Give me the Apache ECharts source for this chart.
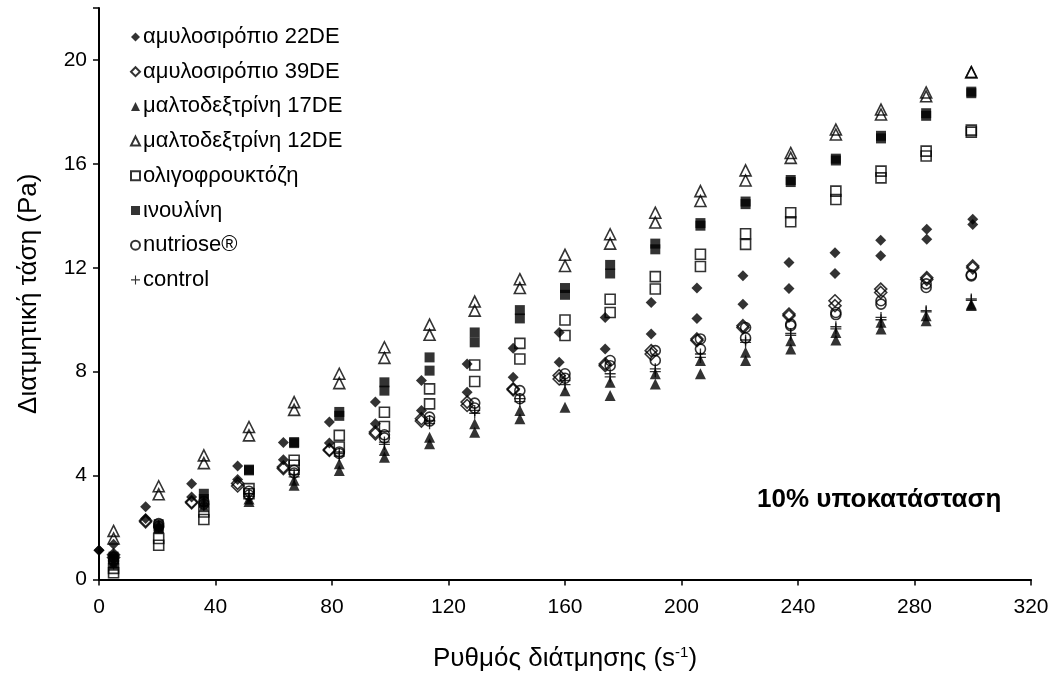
<!DOCTYPE html>
<html>
<head>
<meta charset="utf-8">
<script src="https://cdn.jsdelivr.net/npm/echarts@6/dist/echarts.min.js"></script>
<style>html,body{margin:0;padding:0;background:#fff}#c{width:1056px;height:682px}</style>
</head>
<body>
<div id="c"></div>
<script>
// ---- data ----
var seriesNames = ['αμυλοσιρόπιο 22DE','αμυλοσιρόπιο 39DE','μαλτοδεξτρίνη 17DE','μαλτοδεξτρίνη 12DE','ολιγοφρουκτόζη','ινουλίνη','nutriose®','control'];
var xMain = [5, 20.5, 36, 51.5, 67, 82.5, 98, 113.5, 129, 144.5, 160, 175.5, 191, 206.5, 222, 237.5, 253, 268.5, 284, 299.5];
var x22 = [0, 5, 16, 31.8, 47.6, 63.3, 79.1, 94.9, 110.7, 126.4, 142.2, 158, 173.8, 189.6, 205.3, 221.1, 236.9, 252.7, 268.4, 284.2, 300];
var x39 = [5, 16, 31.8, 47.6, 63.3, 79.1, 94.9, 110.7, 126.4, 142.2, 158, 173.8, 189.6, 205.3, 221.1, 236.9, 252.7, 268.4, 284.2, 300];

var y22Up   = [1.13, 1.36, 2.8, 3.69, 4.37, 5.27, 6.06, 6.83, 7.66, 8.3, 8.9, 9.51, 10.09, 10.66, 11.22, 11.69, 12.2, 12.58, 13.06, 13.48, 13.87];
var y22Down = [1.13, 0.94, 2.35, 3.18, 3.85, 4.61, 5.25, 6.0, 6.51, 7.21, 7.79, 8.36, 8.87, 9.45, 10.05, 10.6, 11.2, 11.78, 12.46, 13.1, 13.67];
var y39Up   = [0.95, 2.27, 2.99, 3.7, 4.33, 5.0, 5.68, 6.19, 6.83, 7.34, 7.85, 8.3, 8.81, 9.26, 9.77, 10.22, 10.73, 11.18, 11.62, 12.07];
var y39Down = [0.85, 2.22, 2.95, 3.6, 4.27, 4.97, 5.61, 6.1, 6.7, 7.3, 7.72, 8.23, 8.68, 9.2, 9.7, 10.15, 10.54, 11.05, 11.55, 12.0];
var y17Up   = [0.65, 2.1, 3.0, 3.1, 3.82, 4.46, 4.97, 5.48, 6.0, 6.51, 7.27, 7.59, 7.92, 8.43, 8.75, 9.19, 9.51, 9.9, 10.15, 10.6];
var y17Down = [0.55, 2.0, 2.8, 3.0, 3.63, 4.2, 4.71, 5.23, 5.67, 6.19, 6.63, 7.08, 7.53, 7.92, 8.43, 8.87, 9.22, 9.64, 9.96, 10.55];
var y12Up   = [1.87, 3.59, 4.78, 5.87, 6.83, 7.92, 8.94, 9.81, 10.7, 11.56, 12.5, 13.29, 14.12, 14.95, 15.75, 16.42, 17.32, 18.09, 18.75, 19.53];
var y12Down = [1.58, 3.28, 4.48, 5.55, 6.53, 7.56, 8.53, 9.42, 10.35, 11.22, 12.07, 12.93, 13.74, 14.57, 15.36, 16.23, 17.13, 17.9, 18.6, 19.53];
var yOligoUp   = [0.43, 1.58, 2.6, 3.5, 4.59, 5.55, 6.44, 7.34, 8.26, 9.09, 9.99, 10.79, 11.66, 12.52, 13.31, 14.12, 14.95, 15.72, 16.49, 17.3];
var yOligoDown = [0.26, 1.32, 2.31, 3.3, 4.4, 5.1, 5.89, 6.76, 7.62, 8.49, 9.39, 10.28, 11.18, 12.05, 12.9, 13.77, 14.63, 15.46, 16.3, 17.22];
var yInulinUp   = [0.88, 2.13, 3.3, 4.23, 5.29, 6.45, 7.59, 8.55, 9.51, 10.37, 11.22, 12.11, 12.93, 13.72, 14.55, 15.38, 16.2, 17.08, 17.95, 18.78];
var yInulinDown = [0.8, 1.96, 3.1, 4.2, 5.25, 6.3, 7.27, 8.04, 9.13, 10.05, 10.96, 11.78, 12.71, 13.62, 14.45, 15.3, 16.13, 16.98, 17.85, 18.72];
var yNutrUp   = [0.75, 2.15, 3.0, 3.4, 4.2, 4.91, 5.57, 6.25, 6.79, 7.27, 7.92, 8.43, 8.81, 9.26, 9.7, 9.83, 10.28, 10.73, 11.38, 11.73];
var yNutrDown = [0.7, 2.05, 2.9, 3.25, 4.1, 4.85, 5.45, 6.1, 6.6, 6.96, 7.75, 8.23, 8.43, 8.87, 9.3, 9.77, 10.2, 10.6, 11.24, 11.69];
var yCtrlUp   = [0.7, 2.05, 2.9, 3.3, 4.05, 4.85, 5.29, 6.12, 6.51, 6.96, 7.66, 7.92, 8.11, 8.68, 9.22, 9.47, 9.73, 10.09, 10.35, 10.8];
var yCtrlDown = [0.6, 2.0, 2.85, 3.2, 3.95, 4.75, 5.2, 6.0, 6.4, 6.85, 7.5, 7.8, 8.0, 8.55, 9.13, 9.4, 9.65, 10.0, 10.3, 10.75];

var xTicks = [0, 40, 80, 120, 160, 200, 240, 280, 320];
var yTicks = [0, 4, 8, 12, 16, 20];
var xTitle = 'Ρυθμός διάτμησης (s';
var yTitle = 'Διατμητική τάση (Pa)';
var note = '10% υποκατάσταση';

function pts(xs, up, down) {
  var out = [];
  for (var i = 0; i < xs.length; i++) { out.push([xs[i], up[i]]); }
  for (var j = 0; j < xs.length; j++) { out.push([xs[j], down[j]]); }
  return out;
}

var FONT = 'Liberation Sans, Arial, sans-serif';
var filled = {color: '#000', borderColor: '#000', borderWidth: 0};
var hollow = {color: 'rgba(255,255,255,0)', borderColor: '#000', borderWidth: 1.6};
var plusPath = 'path://M4.4,0H5.6V4.4H10V5.6H5.6V10H4.4V5.6H0V4.4H4.4Z';

var defs = [
  {x: x22, up: y22Up, down: y22Down, symbol: 'diamond', size: 11, style: filled},
  {x: x39, up: y39Up, down: y39Down, symbol: 'diamond', size: 12, style: hollow},
  {x: xMain, up: y17Up, down: y17Down, symbol: 'triangle', size: 11, style: filled},
  {x: xMain, up: y12Up, down: y12Down, symbol: 'triangle', size: 11, style: hollow},
  {x: xMain, up: yOligoUp, down: yOligoDown, symbol: 'rect', size: 10, style: hollow},
  {x: xMain, up: yInulinUp, down: yInulinDown, symbol: 'rect', size: 10, style: filled},
  {x: xMain, up: yNutrUp, down: yNutrDown, symbol: 'circle', size: 10, style: hollow},
  {x: xMain, up: yCtrlUp, down: yCtrlDown, symbol: plusPath, size: 11, style: filled}
];

var series = defs.map(function (d, i) {
  return {
    name: seriesNames[i],
    type: 'scatter',
    symbol: d.symbol,
    symbolSize: d.size,
    itemStyle: d.style,
    data: pts(d.x, d.up, d.down),
    z: 2 + i
  };
});

var chart = echarts.init(document.getElementById('c'), null, {renderer: 'canvas'});
chart.setOption({
  animation: false,
  backgroundColor: '#fff',
  textStyle: {fontFamily: FONT},
  grid: {left: 99, right: 25, top: 8, bottom: 102.5, containLabel: false},
  legend: {
    orient: 'vertical',
    left: 125,
    top: 21,
    itemWidth: 9,
    itemHeight: 9,
    itemGap: 12.7,
    data: seriesNames.map(function (n, i) {
      return {name: n, icon: defs[i].symbol};
    }),
    textStyle: {fontFamily: FONT, fontSize: 22, color: '#000', lineHeight: 22, padding: [0, 0, 0, -2]},
    selectedMode: false
  },
  xAxis: {
    type: 'value',
    min: 0, max: 320, interval: 40,
    name: '{a|' + xTitle + '}{s|-1}{a|)}',
    nameLocation: 'middle',
    nameGap: 66,
    nameTextStyle: {
      rich: {
        a: {fontFamily: FONT, fontSize: 26, color: '#000'},
        s: {fontFamily: FONT, fontSize: 15, color: '#000', verticalAlign: 'top', padding: [0, 0, 11, 0]}
      }
    },
    axisLine: {show: true, onZero: false, lineStyle: {color: '#000', width: 2}},
    axisTick: {show: true, length: 6, lineStyle: {color: '#000', width: 1.5}},
    axisLabel: {color: '#000', fontSize: 21, fontFamily: FONT, margin: 17},
    splitLine: {show: false}
  },
  yAxis: {
    type: 'value',
    min: 0, max: 22, interval: 4,
    name: yTitle,
    nameLocation: 'middle',
    nameGap: 57,
    nameRotate: 90,
    nameTextStyle: {fontFamily: FONT, fontSize: 26, color: '#000'},
    axisLine: {show: true, onZero: false, lineStyle: {color: '#000', width: 2}},
    axisTick: {show: true, length: 6, lineStyle: {color: '#000', width: 1.5}},
    axisLabel: {color: '#000', fontSize: 21, fontFamily: FONT, margin: 12,
      formatter: function (v) { return yTicks.indexOf(v) >= 0 ? String(v) : ''; }},
    splitLine: {show: false}
  },
  graphic: [{
    type: 'text',
    left: 757,
    top: 487,
    style: {text: note, fontFamily: FONT, fontSize: 26, fontWeight: 'bold', fill: '#000'}
  }],
  series: series
});
</script>
</body>
</html>
